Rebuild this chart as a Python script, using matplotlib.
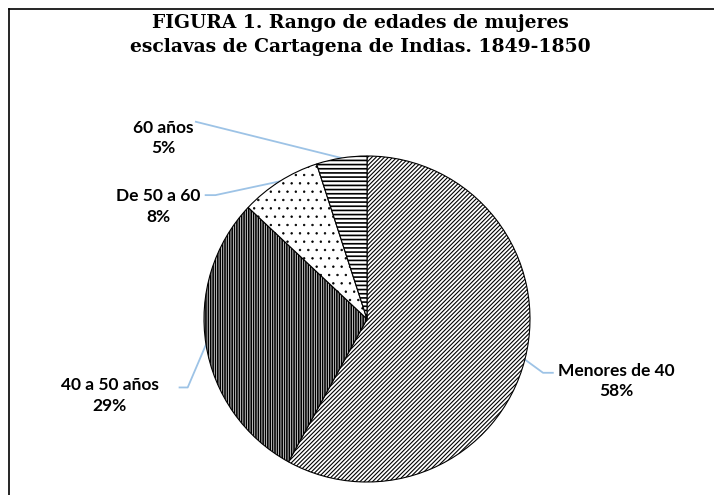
import numpy as np
import matplotlib
matplotlib.use("Agg")
import matplotlib.pyplot as plt
from matplotlib.lines import Line2D

# data, clockwise from 12 o'clock
labels = ["Menores de 40", "40 a 50 años", "De 50 a 60", "60 años"]
shares = [58, 29, 8, 5]
hatches = ["/" * 8, "|" * 7, "..", "----"]
hatch_lw = [0.8, 1.2, 0.5, 1.2]

title = "FIGURA 1. Rango de edades de mujeres\nesclavas de Cartagena de Indias. 1849-1850"

# label placement (pie radius units): text centre, knee and end of leader
text_pos = [(1.53, -0.38), (-1.58, -0.47), (-1.28, 0.69), (-1.25, 1.11)]
knees = [(1.08, -0.33), (-1.10, -0.42), (-0.93, 0.76), (-1.05, 1.21)]
ends = [(1.14, -0.33), (-1.15, -0.42), (-0.99, 0.76), (-1.05, 1.21)]

W, H = 714, 495
plt.rcParams["hatch.linewidth"] = 1.0
fig = plt.figure(figsize=(W / 100, H / 100), dpi=100)

# pie centre (367, 319) px from top-left, radius 163 px
cx, cy, r = 367, 319, 163
ax = fig.add_axes([(cx - r) / W, (H - cy - r) / H, 2 * r / W, 2 * r / H])
wedges, _ = ax.pie(shares, startangle=90, counterclock=False,
                   colors=["white"] * 4,
                   wedgeprops=dict(edgecolor="black", linewidth=0.8))
for w, h, lw in zip(wedges, hatches, hatch_lw):
    w.set_hatch(h)
    if hasattr(w, "set_hatch_linewidth"):
        w.set_hatch_linewidth(lw)
ax.set_xlim(-1, 1)
ax.set_ylim(-1, 1)
ax.set_aspect("equal")
ax.axis("off")

lead_col = "#9dc3e6"
for w, lab, s, tp, kn, en in zip(wedges, labels, shares, text_pos, knees, ends):
    mid = np.deg2rad((w.theta1 + w.theta2) / 2)
    px, py = np.cos(mid), np.sin(mid)
    ax.plot([px, kn[0], en[0]], [py, kn[1], en[1]], color=lead_col, lw=1.3,
            clip_on=False, zorder=0)
    ax.text(tp[0], tp[1], f"{lab}\n{s}%", ha="center", va="center",
            fontsize=12.5, family="Lato", fontweight="bold", linespacing=1.35,
            clip_on=False)

fig.text(360 / W, 1 - 35 / H, title, ha="center", va="center",
         family="DejaVu Serif", fontweight="bold", fontsize=13.5,
         linespacing=1.4)

# frame lines (top and left)
fig.add_artist(Line2D([9 / W, 1], [1 - 9 / H, 1 - 9 / H], color="black", lw=1.2))
fig.add_artist(Line2D([9 / W, 9 / W], [0, 1 - 9 / H], color="black", lw=1.2))

fig.savefig("out.png", dpi=100)
